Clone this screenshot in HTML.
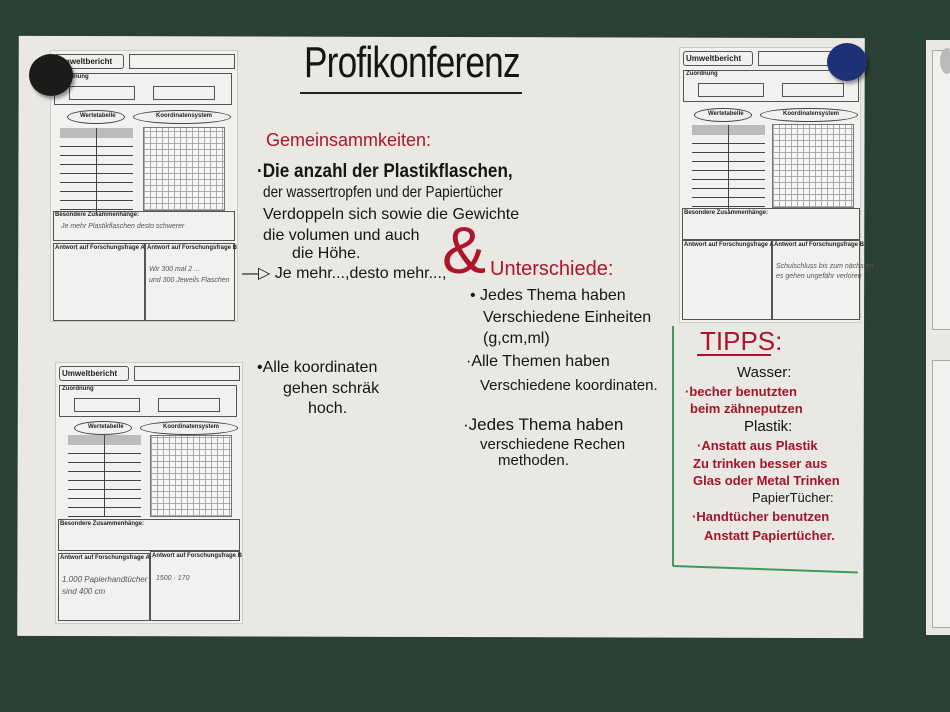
<!DOCTYPE html>
<html><head><meta charset="utf-8"><style>
*{margin:0;padding:0;box-sizing:border-box}
body{width:950px;height:712px;overflow:hidden;background:#2a4034;position:relative;font-family:"Liberation Sans",sans-serif}
.abs{position:absolute}
.paper{background:#e9e8e3}
.ws{position:absolute;background:#f1f1ef;border:1px solid #ccc}
.ws .b{position:absolute;border:1px solid #555}
.ws .t{position:absolute;font-size:6px;color:#222;font-weight:bold;white-space:nowrap}
.ws .ov{position:absolute;border:1px solid #444;border-radius:50%}
.grid{position:absolute;border:1px solid #777;background-color:#f6f6f6;background-image:repeating-linear-gradient(0deg,#aaa 0 1px,transparent 1px 6px),repeating-linear-gradient(90deg,#aaa 0 1px,transparent 1px 6px)}
.tbl{position:absolute;background-image:repeating-linear-gradient(180deg,transparent 0 8px,#444 8px 9px)}
.hw{position:absolute;white-space:nowrap;color:#151515;font-family:"Liberation Sans",sans-serif}
.r{color:#b0142a}
.rd{color:#a3142a;font-weight:bold}
.sc{position:absolute;font-size:7px;color:#555;white-space:nowrap;font-style:italic}
</style></head><body>
<div class="abs paper" style="left:18px;top:37px;width:846px;height:600px;transform:rotate(0.15deg)"></div>
<div class="abs paper" style="left:926px;top:40px;width:30px;height:595px"></div>
<div class="abs" style="left:932px;top:50px;width:20px;height:280px;background:#f1f1ef;border:1px solid #aaa"></div>
<div class="abs" style="left:932px;top:360px;width:20px;height:268px;background:#f1f1ef;border:1px solid #aaa"></div>

<div class="ws" style="left:50px;top:50px;width:188px;height:272px">
 <div class="b" style="left:3px;top:3px;width:70px;height:15px;border-radius:3px"></div><div class="t" style="left:6px;top:6px;font-size:8px">Umweltbericht</div>
 <div class="b" style="left:78px;top:3px;width:106px;height:15px"></div>
 <div class="b" style="left:3px;top:22px;width:178px;height:32px"></div><div class="t" style="left:6px;top:23px">Zuordnung</div>
 <div class="b" style="left:18px;top:35px;width:66px;height:14px"></div><div class="b" style="left:102px;top:35px;width:62px;height:14px"></div>
 <div class="ov" style="left:16px;top:59px;width:58px;height:14px"></div><div class="t" style="left:29px;top:62px">Wertetabelle</div>
 <div class="ov" style="left:82px;top:59px;width:98px;height:14px"></div><div class="t" style="left:105px;top:62px">Koordinatensystem</div>
 <div class="abs" style="left:9px;top:77px;width:73px;height:10px;background:#bbb"></div>
 <div class="tbl" style="left:9px;top:87px;width:73px;height:76px"></div>
 <div class="abs" style="left:45px;top:77px;width:1px;height:86px;background:#444"></div>
 <div class="grid" style="left:92px;top:76px;width:82px;height:84px"></div>
 <div class="b" style="left:2px;top:160px;width:182px;height:30px"></div><div class="t" style="left:4px;top:161px">Besondere Zusammenhänge:</div>
 <div class="sc" style="left:10px;top:172px">Je mehr Plastikflaschen desto schwerer</div>
 <div class="b" style="left:2px;top:192px;width:92px;height:78px"></div><div class="t" style="left:4px;top:194px">Antwort auf Forschungsfrage A</div>
 <div class="b" style="left:94px;top:192px;width:90px;height:78px"></div><div class="t" style="left:96px;top:194px">Antwort auf Forschungsfrage B</div>
 <div class="sc" style="left:98px;top:215px">Wir 300 mal 2 ...</div>
 <div class="sc" style="left:98px;top:226px">und 300 Jeweils Flaschen</div>
</div>
<div class="ws" style="left:679px;top:47px;width:182px;height:276px">
 <div class="b" style="left:3px;top:3px;width:70px;height:15px;border-radius:3px"></div><div class="t" style="left:6px;top:6px;font-size:8px">Umweltbericht</div>
 <div class="b" style="left:78px;top:3px;width:100px;height:15px"></div>
 <div class="b" style="left:3px;top:22px;width:176px;height:32px"></div><div class="t" style="left:6px;top:23px">Zuordnung</div>
 <div class="b" style="left:18px;top:35px;width:66px;height:14px"></div><div class="b" style="left:102px;top:35px;width:62px;height:14px"></div>
 <div class="ov" style="left:14px;top:60px;width:58px;height:14px"></div><div class="t" style="left:28px;top:63px">Wertetabelle</div>
 <div class="ov" style="left:80px;top:60px;width:98px;height:14px"></div><div class="t" style="left:103px;top:63px">Koordinatensystem</div>
 <div class="abs" style="left:12px;top:77px;width:73px;height:10px;background:#bbb"></div>
 <div class="tbl" style="left:12px;top:87px;width:73px;height:76px"></div>
 <div class="abs" style="left:48px;top:77px;width:1px;height:86px;background:#444"></div>
 <div class="grid" style="left:92px;top:76px;width:82px;height:84px"></div>
 <div class="b" style="left:2px;top:160px;width:178px;height:32px"></div><div class="t" style="left:4px;top:162px">Besondere Zusammenhänge:</div>
 <div class="b" style="left:2px;top:192px;width:90px;height:80px"></div><div class="t" style="left:4px;top:194px">Antwort auf Forschungsfrage A</div>
 <div class="b" style="left:92px;top:192px;width:88px;height:80px"></div><div class="t" style="left:94px;top:194px">Antwort auf Forschungsfrage B</div>
 <div class="sc" style="left:96px;top:215px">Schulschluss bis zum nächsten</div>
 <div class="sc" style="left:96px;top:225px">es gehen ungefähr verloren</div>
</div>
<div class="ws" style="left:55px;top:362px;width:188px;height:262px">
 <div class="b" style="left:3px;top:3px;width:70px;height:15px;border-radius:3px"></div><div class="t" style="left:6px;top:6px;font-size:8px">Umweltbericht</div>
 <div class="b" style="left:78px;top:3px;width:106px;height:15px"></div>
 <div class="b" style="left:3px;top:22px;width:178px;height:32px"></div><div class="t" style="left:6px;top:23px">Zuordnung</div>
 <div class="b" style="left:18px;top:35px;width:66px;height:14px"></div><div class="b" style="left:102px;top:35px;width:62px;height:14px"></div>
 <div class="ov" style="left:18px;top:58px;width:58px;height:14px"></div><div class="t" style="left:32px;top:61px">Wertetabelle</div>
 <div class="ov" style="left:84px;top:58px;width:98px;height:14px"></div><div class="t" style="left:107px;top:61px">Koordinatensystem</div>
 <div class="abs" style="left:12px;top:72px;width:73px;height:10px;background:#bbb"></div>
 <div class="tbl" style="left:12px;top:82px;width:73px;height:72px"></div>
 <div class="abs" style="left:48px;top:72px;width:1px;height:82px;background:#444"></div>
 <div class="grid" style="left:94px;top:72px;width:82px;height:82px"></div>
 <div class="b" style="left:2px;top:156px;width:182px;height:32px"></div><div class="t" style="left:4px;top:158px">Besondere Zusammenhänge:</div>
 <div class="b" style="left:2px;top:190px;width:92px;height:68px"></div><div class="t" style="left:4px;top:192px">Antwort auf Forschungsfrage A</div>
 <div class="sc" style="left:6px;top:212px;font-size:8px">1.000 Papierhandtücher</div>
 <div class="sc" style="left:6px;top:224px;font-size:8px">sind 400 cm</div>
 <div class="b" style="left:94px;top:188px;width:90px;height:70px"></div><div class="t" style="left:96px;top:190px">Antwort auf Forschungsfrage B</div>
 <div class="sc" style="left:100px;top:212px">1500 · 170</div>
</div>

<div class="abs" style="left:29px;top:54px;width:44px;height:42px;border-radius:50%;background:#1c1a1a;box-shadow:2px 3px 3px rgba(0,0,0,.4)"></div>
<div class="abs" style="left:827px;top:43px;width:40px;height:38px;border-radius:50%;background:#1f2f78;box-shadow:2px 3px 3px rgba(0,0,0,.4)"></div>
<div class="abs" style="left:940px;top:48px;width:14px;height:26px;border-radius:50%;background:#bbb"></div>

<div class="hw" style="left:304px;top:38px;font-size:44px;letter-spacing:-1px;transform:scaleX(0.8);transform-origin:left">Profikonferenz</div>
<div class="abs" style="left:300px;top:92px;width:222px;height:2px;background:#222"></div>

<div class="hw r" style="left:266px;top:130px;font-size:18px">Gemeinsammkeiten:</div>
<div class="hw" style="left:257px;top:161px;font-size:19px;font-weight:bold;transform:scaleX(0.9);transform-origin:left">·Die anzahl der Plastikflaschen,</div>
<div class="hw" style="left:263px;top:184px;font-size:16px;transform:scaleX(0.85);transform-origin:left">der wassertropfen und der Papiertücher</div>
<div class="hw" style="left:263px;top:206px;font-size:16px">Verdoppeln sich sowie die Gewichte</div>
<div class="hw" style="left:263px;top:227px;font-size:16px">die volumen und auch</div>
<div class="hw" style="left:292px;top:245px;font-size:16px">die Höhe.</div>
<div class="hw" style="left:242px;top:263px;font-size:16px">—▷ Je mehr...,desto mehr...,</div>
<div class="hw r" style="left:442px;top:212px;font-size:66px">&amp;</div>
<div class="hw r" style="left:490px;top:258px;font-size:20px">Unterschiede:</div>
<div class="hw" style="left:470px;top:287px;font-size:16px">• Jedes Thema haben</div>
<div class="hw" style="left:483px;top:309px;font-size:16px">Verschiedene Einheiten</div>
<div class="hw" style="left:483px;top:330px;font-size:16px">(g,cm,ml)</div>
<div class="hw" style="left:466px;top:353px;font-size:16px">·Alle Themen haben</div>
<div class="hw" style="left:480px;top:377px;font-size:15px">Verschiedene koordinaten.</div>
<div class="hw" style="left:463px;top:415px;font-size:17px">·Jedes Thema haben</div>
<div class="hw" style="left:480px;top:436px;font-size:15px">verschiedene Rechen</div>
<div class="hw" style="left:498px;top:452px;font-size:15px">methoden.</div>
<div class="hw" style="left:257px;top:359px;font-size:16px">•Alle koordinaten</div>
<div class="hw" style="left:283px;top:380px;font-size:16px">gehen schräk</div>
<div class="hw" style="left:308px;top:400px;font-size:16px">hoch.</div>

<div class="abs" style="left:672px;top:326px;width:2px;height:240px;background:#3c9a5c"></div>
<div class="abs" style="left:673px;top:565px;width:185px;height:2px;background:#3c9a5c;transform:rotate(2deg);transform-origin:left"></div>
<div class="hw r" style="left:700px;top:326px;font-size:26px">TIPPS:</div>
<div class="abs" style="left:697px;top:354px;width:74px;height:2px;background:#b0142a"></div>
<div class="hw" style="left:737px;top:364px;font-size:15px">Wasser:</div>
<div class="hw rd" style="left:685px;top:384px;font-size:13px">·becher benutzten</div>
<div class="hw rd" style="left:690px;top:401px;font-size:13px">beim zähneputzen</div>
<div class="hw" style="left:744px;top:418px;font-size:15px">Plastik:</div>
<div class="hw rd" style="left:697px;top:438px;font-size:13px">·Anstatt aus Plastik</div>
<div class="hw rd" style="left:693px;top:456px;font-size:13px">Zu trinken besser aus</div>
<div class="hw rd" style="left:693px;top:473px;font-size:13px">Glas oder Metal Trinken</div>
<div class="hw" style="left:752px;top:490px;font-size:13px">PapierTücher:</div>
<div class="hw rd" style="left:692px;top:509px;font-size:13px">·Handtücher benutzen</div>
<div class="hw rd" style="left:704px;top:528px;font-size:13px">Anstatt Papiertücher.</div>
</body></html>
